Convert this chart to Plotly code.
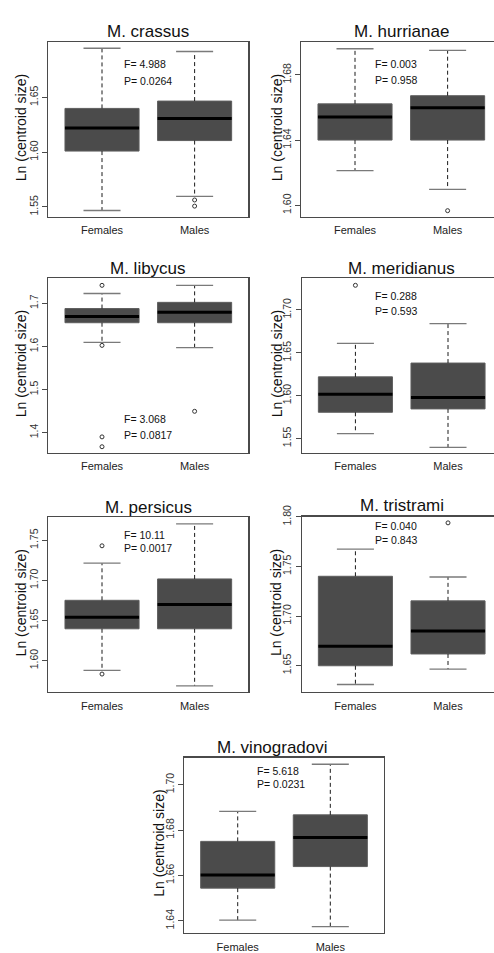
import plotly.graph_objects as go

W, H = 494, 953

# ---------------- data ----------------
species = ["M. crassus", "M. hurrianae", "M. libycus", "M. meridianus",
           "M. persicus", "M. tristrami", "M. vinogradovi"]
groups = ["Females", "Males"]

fem_lower = [1.5467, 1.6213, 1.6093, 1.5558, 1.5878, 1.6309, 1.6403]
fem_q1    = [1.6010, 1.6400, 1.6550, 1.5806, 1.6397, 1.6498, 1.6544]
fem_med   = [1.6220, 1.6541, 1.6696, 1.6017, 1.6540, 1.6696, 1.6602]
fem_q3    = [1.6400, 1.6622, 1.6879, 1.6219, 1.6752, 1.7401, 1.6750]
fem_upper = [1.6950, 1.6960, 1.7228, 1.6610, 1.7214, 1.7675, 1.6882]
fem_out   = [[], [], [1.7418, 1.6024, 1.3900, 1.3671], [1.7287],
             [1.7431, 1.5833], [], []]

mal_lower = [1.5596, 1.6098, 1.5972, 1.5397, 1.5685, 1.6464, 1.6374]
mal_q1    = [1.6106, 1.6400, 1.6550, 1.5845, 1.6397, 1.6617, 1.6639]
mal_med   = [1.6308, 1.6598, 1.6794, 1.5978, 1.6700, 1.6848, 1.6767]
mal_q3    = [1.6467, 1.6672, 1.7023, 1.6380, 1.7018, 1.7153, 1.6867]
mal_upper = [1.6920, 1.6950, 1.7418, 1.6839, 1.7705, 1.7394, 1.7090]
mal_out   = [[1.5563, 1.5507], [1.5967], [1.4494], [], [], [1.7940], []]

f_stat = ["4.988", "0.003", "3.068", "0.288", "10.11", "0.040", "5.618"]
p_val  = ["0.0264", "0.958", "0.0817", "0.593", "0.0017", "0.843", "0.0231"]

y_tickvals = [[1.55, 1.60, 1.65], [1.60, 1.64, 1.68], [1.4, 1.5, 1.6, 1.7],
              [1.55, 1.60, 1.65, 1.70], [1.60, 1.65, 1.70, 1.75],
              [1.65, 1.70, 1.75, 1.80], [1.64, 1.66, 1.68, 1.70]]
y_ticktext = [["1.55", "1.60", "1.65"], ["1.60", "1.64", "1.68"],
              ["1.4", "1.5", "1.6", "1.7"], ["1.55", "1.60", "1.65", "1.70"],
              ["1.60", "1.65", "1.70", "1.75"], ["1.65", "1.70", "1.75", "1.80"],
              ["1.64", "1.66", "1.68", "1.70"]]
y_ranges = [[1.5410, 1.7005], [1.5930, 1.7000], [1.3534, 1.7578],
            [1.5335, 1.7367], [1.5608, 1.7787], [1.6232, 1.8003],
            [1.6345, 1.7119]]
y_label = "Ln (centroid size)"

# ---------------- layout (pixel geometry) ----------------
FRAMES = [(48.3, 248.3, 30.7, 208.0), (301.3, 494.0, 30.7, 208.0),
          (48.3, 248.3, 270.7, 447.7), (301.7, 494.0, 270.7, 447.7),
          (48.3, 248.3, 513.3, 691.0), (301.7, 494.0, 512.7, 691.0),
          (184.0, 384.0, 757.6, 936.0)]
CLIPPED = [False, True, False, True, False, True, False]
PX_PER_UNIT = 92.6
TITLE_POS = [(148, 20), (401.7, 20), (148, 260.7), (401.7, 260.7),
             (148, 503.3), (401.7, 501.7), (272, 747.3)]
YLAB_X = [20.7, 276.7, 20.7, 276.7, 20.7, 276.7, 158.3]
STAT_POS = [(122, 53, 70), (372.7, 53.3, 69), (122.3, 414, 429.3),
            (372.7, 288.3, 303.3), (122.3, 531.7, 545), (372.7, 522.7, 536.7),
            (255, 770.7, 784)]

FONT = "Liberation Sans, Arial, sans-serif"
BOX_FILL = "#4b4b4b"
BOX_LINE = "#5e5e5e"
FRAME_COL = "#4a4a4a"
CAP_COL = "#7a7a7a"

def px(x):
    return x / W

def py(y):
    return 1 - y / H

fig = go.Figure()
annotations = []
layout_axes = {}

for i in range(7):
    xr = "x" if i == 0 else f"x{i+1}"
    yr = "y" if i == 0 else f"y{i+1}"
    x0, x1, y0, y1 = FRAMES[i]
    xrange = [0.42, 0.42 + (x1 - x0) / PX_PER_UNIT]

    stats = [
        (1, fem_lower[i], fem_q1[i], fem_med[i], fem_q3[i], fem_upper[i], fem_out[i]),
        (2, mal_lower[i], mal_q1[i], mal_med[i], mal_q3[i], mal_upper[i], mal_out[i]),
    ]
    for pos, lo, q1, med, q3, up, outs in stats:
        # dashed whiskers
        fig.add_trace(go.Scatter(
            x=[pos, pos, None, pos, pos], y=[q3, up, None, q1, lo],
            mode="lines", line=dict(color="#1a1a1a", width=1, dash="4px,3px"),
            xaxis=xr, yaxis=yr, showlegend=False, hoverinfo="skip"))
        # box body
        fig.add_trace(go.Box(
            x=[pos], q1=[q1], median=[med], q3=[q3],
            lowerfence=[q1], upperfence=[q3], width=0.8, whiskerwidth=0,
            fillcolor=BOX_FILL, line=dict(color=BOX_LINE, width=1),
            boxpoints=False, xaxis=xr, yaxis=yr, showlegend=False,
            hoverinfo="skip"))
        # median
        fig.add_trace(go.Scatter(
            x=[pos - 0.4, pos + 0.4], y=[med, med], mode="lines",
            line=dict(color="black", width=3),
            xaxis=xr, yaxis=yr, showlegend=False, hoverinfo="skip"))
        # caps
        fig.add_trace(go.Scatter(
            x=[pos - 0.2, pos + 0.2, None, pos - 0.2, pos + 0.2],
            y=[up, up, None, lo, lo], mode="lines",
            line=dict(color=CAP_COL, width=1.3),
            xaxis=xr, yaxis=yr, showlegend=False, hoverinfo="skip"))
        if outs:
            fig.add_trace(go.Scatter(
                x=[pos] * len(outs), y=outs, mode="markers",
                marker=dict(symbol="circle-open", size=4,
                            color="#333333", line=dict(width=1)),
                xaxis=xr, yaxis=yr, showlegend=False, hoverinfo="skip"))

    xa = "xaxis" if i == 0 else f"xaxis{i+1}"
    ya = "yaxis" if i == 0 else f"yaxis{i+1}"
    layout_axes[xa] = dict(
        domain=[px(x0), px(x1)], anchor=yr, range=xrange,
        tickvals=[1, 2], ticktext=groups, ticks="", showgrid=False,
        zeroline=False, showline=True, mirror=True, linecolor=FRAME_COL,
        linewidth=1.2, ticklabelstandoff=3,
        tickfont=dict(family=FONT, size=11, color="#222222"))
    layout_axes[ya] = dict(
        domain=[py(y1), py(y0)], anchor=xr, range=y_ranges[i],
        tickvals=y_tickvals[i], ticktext=y_ticktext[i], ticks="outside",
        ticklen=5, tickwidth=1, tickcolor=FRAME_COL, tickangle=-90,
        showgrid=False, zeroline=False, showline=True,
        mirror=not CLIPPED[i],
        linecolor=FRAME_COL, linewidth=1.2,
        tickfont=dict(family=FONT, size=10.5, color="#333333"))

    # panel title
    tx, ty = TITLE_POS[i]
    annotations.append(dict(
        x=px(tx), y=py(ty), xref="paper", yref="paper", text=species[i],
        showarrow=False, xanchor="center", yanchor="middle",
        font=dict(family=FONT, size=17, color="#111111")))
    # y axis label
    annotations.append(dict(
        x=px(YLAB_X[i]), y=py((y0 + y1) / 2 - 2), xref="paper", yref="paper",
        text=y_label, textangle=-90, showarrow=False, xanchor="center",
        yanchor="middle", font=dict(family=FONT, size=14, color="#111111")))
    # statistics
    sx, s1, s2 = STAT_POS[i]
    annotations.append(dict(
        x=px(sx), y=py(s1), xref="paper", yref="paper", text=f"F= {f_stat[i]}",
        showarrow=False, xanchor="left", yanchor="middle",
        font=dict(family=FONT, size=10.5, color="#111111")))
    annotations.append(dict(
        x=px(sx), y=py(s2), xref="paper", yref="paper", text=f"P= {p_val[i]}",
        showarrow=False, xanchor="left", yanchor="middle",
        font=dict(family=FONT, size=10.5, color="#111111")))

fig.update_layout(
    width=W, height=H, margin=dict(l=0, r=0, t=0, b=0),
    paper_bgcolor="white", plot_bgcolor="white", showlegend=False,
    boxmode="overlay", annotations=annotations, **layout_axes)

POST = ("document.body.style.margin='0';"
        "document.body.style.overflow='hidden';"
        "var d=document.getElementById('{plot_id}');"
        "d.style.position='absolute';d.style.left='0px';d.style.top='0px';")

fig.write_html("out.html", post_script=POST,
               config={"displayModeBar": False, "staticPlot": True})
